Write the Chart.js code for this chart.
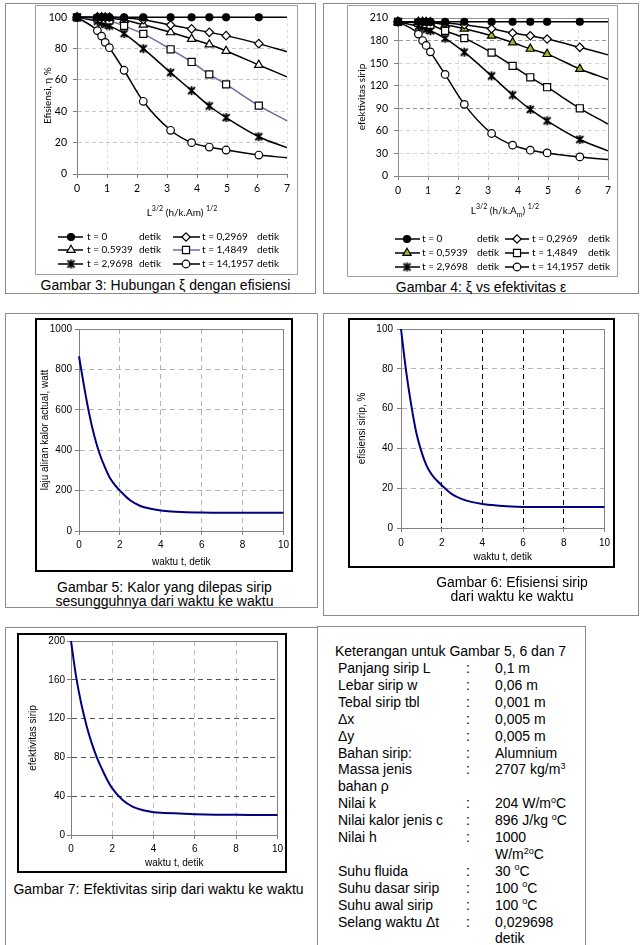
<!DOCTYPE html>
<html>
<head>
<meta charset="utf-8">
<script src="https://cdn.jsdelivr.net/npm/chart.js@4.4.1/dist/chart.umd.min.js"></script>
<style>
  body { margin:0; width:643px; height:945px; position:relative; background:#fff; overflow:hidden;
         font-family:"Liberation Sans", Arial, sans-serif; color:#000; }
  .box { position:absolute; border:1px solid #8c8c8c; box-sizing:border-box; }
  canvas { position:absolute; }
  .cap { position:absolute; text-align:center; font-size:14px; line-height:14px; white-space:nowrap; }
  .xt { position:absolute; font-family:Lato, sans-serif; font-size:10px; white-space:nowrap; transform:translate(-50%,-50%); }
  .xt sup, .xt sub { font-size:7px; }
  .row { position:absolute; font-size:14px; line-height:17px; white-space:nowrap; }
  .row sup { font-size:9px; line-height:0; vertical-align:baseline; position:relative; top:-0.6em; }
</style>
</head>
<body>
<div class="box" style="left:5px;top:3px;width:311px;height:291px"></div>
<div class="box" style="left:323px;top:3px;width:316px;height:291px"></div>
<div class="box" style="left:5px;top:313px;width:313px;height:295px"></div>
<div class="box" style="left:323px;top:313px;width:316px;height:303px"></div>
<div class="box" style="left:5px;top:627px;width:313px;height:330px"></div>
<div class="box" style="left:317px;top:626px;width:269px;height:330px"></div>

<canvas id="c3" width="263" height="270" style="left:35px;top:5px;outline:1px solid #a0a0a0;outline-offset:-1px"></canvas>
<canvas id="c4" width="271" height="272" style="left:347px;top:5px;outline:1px solid #a0a0a0;outline-offset:-1px"></canvas>
<canvas id="c5" width="258" height="254" style="left:35px;top:318px;outline:2px solid #000;outline-offset:-2px"></canvas>
<canvas id="c6" width="267" height="250" style="left:348px;top:318px;outline:2.5px solid #000;outline-offset:-2.5px"></canvas>
<canvas id="c7" width="270" height="240" style="left:17px;top:633px;outline:2.5px solid #000;outline-offset:-2.5px"></canvas>

<div class="xt" style="left:182px;top:211px">L<sup>3/2</sup> (h/k.Am) <sup>1/2</sup></div>
<div class="xt" style="left:505px;top:210px">L<sup>3/2</sup> (h/k.A<sub>m</sub>) <sup>1/2</sup></div>

<div class="cap" style="left:10px;top:278px;width:311px">Gambar 3: Hubungan ξ dengan efisiensi</div>
<div class="cap" style="left:323px;top:280px;width:316px">Gambar 4: ξ vs efektivitas ε</div>
<div class="cap" style="left:9px;top:580px;width:311px">Gambar 5: Kalor yang dilepas sirip<br>sesungguhnya dari waktu ke waktu</div>
<div class="cap" style="left:354px;top:575px;width:316px">Gambar 6: Efisiensi sirip<br>dari waktu ke waktu</div>
<div class="cap" style="left:3px;top:882px;width:311px">Gambar 7: Efektivitas sirip dari waktu ke waktu</div>

<div id="notes"></div>

<script>
// ---- data: Gambar 3 & 4 (xi = L^3/2 (h/k.Am)^1/2) ----
const xi = [0, 0.68, 0.82, 0.94, 1.08, 1.57, 2.21, 3.12, 3.82, 4.41, 4.97, 6.06, 7];
const eta_t0     = [100, 100, 100, 100, 100, 100, 100, 100, 100, 100, 100, 100, 100];
const eta_t02969 = [100, 100, 100, 100, 100, 99.5, 98.5, 95.1, 92.6, 90.4, 88.3, 83.2, 78];
const eta_t05939 = [100, 99.9, 99.8, 99.7, 99.5, 98.3, 95.2, 90.4, 86.2, 82.6, 78.5, 69.6, 62];
const eta_t14849 = [100, 99.3, 99, 98.6, 98, 94.5, 89.4, 79.6, 71.5, 63.6, 57.2, 43.6, 34];
const eta_t29698 = [100, 97.5, 96.5, 95.5, 94.5, 89.6, 80, 64.7, 53.2, 43.4, 36, 23.8, 16.8];
const eta_t14195 = [100, 91.5, 88, 84, 80.6, 66.2, 46.4, 27.9, 20, 17.2, 15.3, 12.1, 10.4];

const eps_t0     = [205, 205, 205, 205, 205, 205, 205, 205, 205, 205, 205, 205, 205];
const eps_t02969 = [205, 205, 205, 205, 205, 203.5, 201, 195.7, 190, 186.4, 182, 171, 161];
const eps_t05939 = [205, 204.8, 204.6, 204.3, 204, 201, 195.7, 186.4, 177.5, 169, 162, 142.3, 128.6];
const eps_t14849 = [205, 203.5, 203, 202, 201, 193, 183.3, 164, 146.4, 131.2, 118, 90, 69];
const eps_t29698 = [205, 199, 198, 195, 193, 183, 164.6, 133, 107.7, 88.5, 73.4, 48.5, 33.4];
const eps_t14195 = [205, 188.6, 180, 173.5, 165, 135, 95.2, 56.5, 41, 34.3, 30.7, 25.4, 21.8];

const legend3 = ['t = 0', 't = 0,2969', 't = 0.5939', 't = 1,4849', 't = 2,9698', 't = 14,1957'];
const legend4 = ['t = 0', 't = 0,2969', 't = 0,5939', 't = 1,4849', 't = 2,9698', 't = 14,1957'];

// ---- data: Gambar 5, 6, 7 (waktu t, detik) ----
const tWaktu   = [0, 0.25, 0.5, 0.75, 1, 1.25, 1.5, 1.75, 2, 2.5, 3, 3.5, 4, 4.5, 5, 6, 7, 8, 9, 10];
const qAktual  = [865, 715, 580, 470, 385, 320, 265, 228, 200, 152, 124, 110, 102, 97, 94, 91, 90, 90, 90, 90];
const efisiensi = [100, 79, 62, 48, 38.5, 31.5, 27, 24, 21.5, 17, 14.5, 13, 12.1, 11.5, 11, 10.6, 10.5, 10.5, 10.5, 10.5];
const efektivitas = [200, 163, 135, 113, 95, 80, 68, 57, 48, 36, 29, 25.5, 23.5, 22.8, 22.3, 21.5, 21, 20.8, 20.7, 20.6];

const notes = [
  ['Panjang sirip L', ':', '0,1 m'],
  ['Lebar sirip w', ':', '0,06 m'],
  ['Tebal sirip tbl', ':', '0,001 m'],
  ['\u0394x', ':', '0,005 m'],
  ['\u0394y', ':', '0,005 m'],
  ['Bahan sirip:', ':', 'Alumnium'],
  ['Massa jenis', ':', '2707 kg/m<sup>3</sup>'],
  ['bahan \u03c1', '', ''],
  ['Nilai k', ':', '204 W/m<sup>o</sup>C'],
  ['Nilai kalor jenis c', ':', '896 J/kg <sup>o</sup>C'],
  ['Nilai h', ':', '1000'],
  ['', '', 'W/m<sup>2o</sup>C'],
  ['Suhu fluida', ':', '30 <sup>o</sup>C'],
  ['Suhu dasar sirip', ':', '100 <sup>o</sup>C'],
  ['Suhu awal sirip', ':', '100 <sup>o</sup>C'],
  ['Selang waktu \u0394t', ':', '0,029698'],
  ['', '', 'detik']
];

// notes table
(function () {
  const box = document.getElementById('notes');
  let html = '<div class="row" style="left:335px;top:643px">Keterangan untuk Gambar 5, 6 dan 7</div>';
  notes.forEach((r, i) => {
    const top = 660 + i * 16.9;
    html += '<div class="row" style="left:338px;top:' + top + 'px">' + r[0] + '</div>';
    html += '<div class="row" style="left:466px;top:' + top + 'px">' + r[1] + '</div>';
    html += '<div class="row" style="left:495px;top:' + top + 'px">' + r[2] + '</div>';
  });
  box.innerHTML = html;
})();

const LATO = 'Lato, "Open Sans", sans-serif';
const ARIAL = '"Liberation Sans", Arial, sans-serif';
Chart.defaults.color = '#000';
Chart.defaults.animation = false;

// asterisk marker (X with a vertical stroke)
function starMarker() {
  const c = document.createElement('canvas');
  c.width = 11; c.height = 11;
  const g = c.getContext('2d');
  g.strokeStyle = '#000'; g.lineWidth = 1.8;
  g.beginPath();
  g.moveTo(2, 2); g.lineTo(9, 9);
  g.moveTo(9, 2); g.lineTo(2, 9);
  g.moveTo(5.5, 1); g.lineTo(5.5, 10);
  g.stroke();
  return c;
}
const STAR = starMarker();

function drawMarker(c, ds, x, y) {
  const s = ds.pointStyle, r = Array.isArray(ds.pointRadius) ? ds.pointRadius[0] : ds.pointRadius;
  if (s instanceof HTMLCanvasElement) { c.drawImage(s, x - s.width / 2, y - s.height / 2); return; }
  c.fillStyle = ds.pointBackgroundColor; c.strokeStyle = ds.pointBorderColor; c.lineWidth = ds.pointBorderWidth;
  c.beginPath();
  if (s === 'circle') c.arc(x, y, r, 0, Math.PI * 2);
  else if (s === 'rect') { const h = r * Math.SQRT1_2; c.rect(x - h, y - h, 2 * h, 2 * h); }
  else if (s === 'rectRot') { c.moveTo(x, y - r); c.lineTo(x + r, y); c.lineTo(x, y + r); c.lineTo(x - r, y); c.closePath(); }
  else if (s === 'triangle') {
    for (let k = 0; k < 3; k++) {
      const a = k * 2 * Math.PI / 3;
      const px = x + Math.sin(a) * r, py = y - Math.cos(a) * r;
      k ? c.lineTo(px, py) : c.moveTo(px, py);
    }
    c.closePath();
  }
  c.fill(); c.stroke();
}

const gridLegend = {
  id: 'gridLegend',
  afterDraw(chart, args, o) {
    if (!o.rows) return;
    const c = chart.ctx;
    c.save();
    c.font = o.font; c.textBaseline = 'middle';
    o.rows.forEach((row, ri) => row.forEach((di, ci) => {
      const ds = chart.data.datasets[di], y = o.y[ri], col = o.cols[ci];
      c.strokeStyle = ds.borderColor; c.lineWidth = ds.borderWidth;
      c.beginPath(); c.moveTo(col.l0, y); c.lineTo(col.l1, y); c.stroke();
      drawMarker(c, ds, col.m, y);
      c.fillStyle = '#000';
      c.fillText(o.labels[di], col.t, y);
      c.fillText('detik', col.d, y);
    }));
    c.restore();
  }
};

const plotBorder = {
  id: 'plotBorder',
  beforeDatasetsDraw(chart, args, o) {
    if (!o.color) return;
    const a = chart.chartArea, c = chart.ctx;
    c.save(); c.strokeStyle = o.color; c.lineWidth = 1;
    c.strokeRect(Math.round(a.left) + 0.5, Math.round(a.top) + 0.5, Math.round(a.right - a.left), Math.round(a.bottom - a.top));
    c.restore();
  }
};

function series(vals, st) {
  return {
    data: xi.map((x, i) => ({ x: x, y: vals[i] })),
    borderColor: st.line || '#000', borderWidth: 1.5,
    pointStyle: st.style,
    pointRadius: xi.map((x, i) => i === xi.length - 1 ? 0 : st.r),
    pointBackgroundColor: st.fill || '#fff', pointBorderColor: '#000', pointBorderWidth: 1.2,
    showLine: true, cubicInterpolationMode: 'monotone', clip: 8, order: st.order || 1
  };
}

function xiChart(id, sets, yMax, yStep, yTitle, lay) {
  new Chart(document.getElementById(id), {
    type: 'scatter',
    data: { datasets: sets },
    options: {
      responsive: false,
      layout: { padding: lay.pad },
      scales: {
        x: {
          type: 'linear', min: 0, max: 7,
          ticks: { stepSize: 1, font: { family: LATO, size: 10.5 }, padding: 4 },
          grid: { color: '#dedede', tickColor: '#808080', tickLength: 4 },
          border: { color: '#808080', dash: [3, 3] },
          afterFit: s => { s.height = 20; }
        },
        y: {
          min: 0, max: yMax,
          ticks: { stepSize: yStep, font: { family: LATO, size: 10.5 }, padding: 6 },
          grid: { color: lay.yGrid, tickColor: '#808080', tickLength: 4 },
          border: { color: '#808080', dash: [4, 3] },
          title: { display: true, text: yTitle, font: { family: LATO, size: 10 }, padding: 0 },
          afterFit: s => { s.width = lay.yw; }
        }
      },
      plugins: {
        legend: { display: false }, tooltip: { enabled: false },
        plotBorder: { color: lay.border },
        gridLegend: lay.legend
      }
    },
    plugins: [gridLegend, plotBorder]
  });
}

xiChart('c3', [
  series(eta_t0, { style: 'circle', r: 3.5, fill: '#000' }),
  series(eta_t02969, { style: 'rectRot', r: 4.2 }),
  series(eta_t05939, { style: 'triangle', r: 4.8 }),
  series(eta_t14849, { style: 'rect', r: 5, line: '#6b6ba6', order: 0 }),
  series(eta_t29698, { style: STAR, r: 4 }),
  series(eta_t14195, { style: 'circle', r: 3.8 })
], 100, 20, 'Efisiensi, \u03b7 %', {
  pad: { left: 7, top: 12, right: 11, bottom: 81 }, yw: 35,
  yGrid: '#c8c8c8', border: null,
  legend: {
    font: '10px ' + LATO, labels: legend3,
    rows: [[0, 1], [2, 3], [4, 5]], y: [232, 245, 259],
    cols: [{ l0: 23, l1: 48, m: 36, t: 52, d: 104 }, { l0: 138, l1: 165, m: 151, t: 167, d: 222 }]
  }
});

xiChart('c4', [
  series(eps_t0, { style: 'circle', r: 3.5, fill: '#000' }),
  series(eps_t02969, { style: 'rectRot', r: 4.2 }),
  series(eps_t05939, { style: 'triangle', r: 4.8, fill: '#a6b72b' }),
  series(eps_t14849, { style: 'rect', r: 5, order: 0 }),
  series(eps_t29698, { style: STAR, r: 4 }),
  series(eps_t14195, { style: 'circle', r: 3.8 })
], 210, 30, 'efektivitas sirip', {
  pad: { left: 9, top: 13, right: 10, bottom: 81 }, yw: 42,
  yGrid: c => (c.tick && c.tick.value % 90 === 0) ? '#999999' : '#d4d4d4', border: '#909090',
  legend: {
    font: '10px ' + LATO, labels: legend4,
    rows: [[0, 1], [2, 3], [4, 5]], y: [234, 248, 262],
    cols: [{ l0: 48, l1: 73, m: 60, t: 75, d: 130 }, { l0: 158, l1: 182, m: 170, t: 185, d: 241 }]
  }
});

function timeChart(id, vals, yMax, yStep, yTitle, lay) {
  new Chart(document.getElementById(id), {
    type: 'scatter',
    data: {
      datasets: [{
        data: tWaktu.map((t, i) => ({ x: t, y: vals[i] })),
        showLine: true, borderColor: '#000080', borderWidth: 2, pointRadius: 0,
        cubicInterpolationMode: 'monotone', clip: 4
      }]
    },
    options: {
      responsive: false,
      layout: { padding: lay.pad },
      scales: {
        x: {
          type: 'linear', min: 0, max: 10,
          ticks: { stepSize: 2, font: { family: ARIAL, size: 10 }, padding: lay.xtp },
          grid: { color: lay.xGrid, tickColor: '#808080', tickLength: 4 },
          border: { color: '#808080', dash: [5, 4] },
          title: { display: true, text: 'waktu t, detik', font: { family: ARIAL, size: 10 }, padding: 0 },
          afterFit: s => { s.height = lay.xh; }
        },
        y: {
          min: 0, max: yMax,
          ticks: { stepSize: yStep, font: { family: ARIAL, size: 10 }, padding: lay.ytp, callback: v => String(v) },
          grid: { color: lay.yGrid, tickColor: '#808080', tickLength: 4 },
          border: { color: '#808080', dash: [5, 4] },
          title: { display: true, text: yTitle, font: { family: ARIAL, size: 10 }, padding: 0 },
          afterFit: s => { s.width = lay.yw; }
        }
      },
      plugins: {
        legend: { display: false }, tooltip: { enabled: false },
        plotBorder: { color: '#808080' }
      }
    },
    plugins: [plotBorder]
  });
}

timeChart('c5', qAktual, 1000, 200, 'laju aliran kalor actual, watt', {
  pad: { left: 4, top: 11, right: 7, bottom: 4 }, yw: 40, xh: 37, xtp: 4, ytp: 3,
  xGrid: '#b4b4b4', yGrid: '#b4b4b4'
});
timeChart('c6', efisiensi, 100, 20, 'efisiensi sirip, %', {
  pad: { left: 8, top: 11, right: 7, bottom: 5 }, yw: 45, xh: 35, xtp: 5, ytp: 4,
  xGrid: '#000000', yGrid: '#b4b4b4'
});
timeChart('c7', efektivitas, 200, 40, 'efektivitas sirip', {
  pad: { left: 10, top: 8, right: 7, bottom: 4 }, yw: 44, xh: 34, xtp: 4, ytp: 2,
  xGrid: '#c0c0c0', yGrid: '#555555'
});
</script>
</body>
</html>
